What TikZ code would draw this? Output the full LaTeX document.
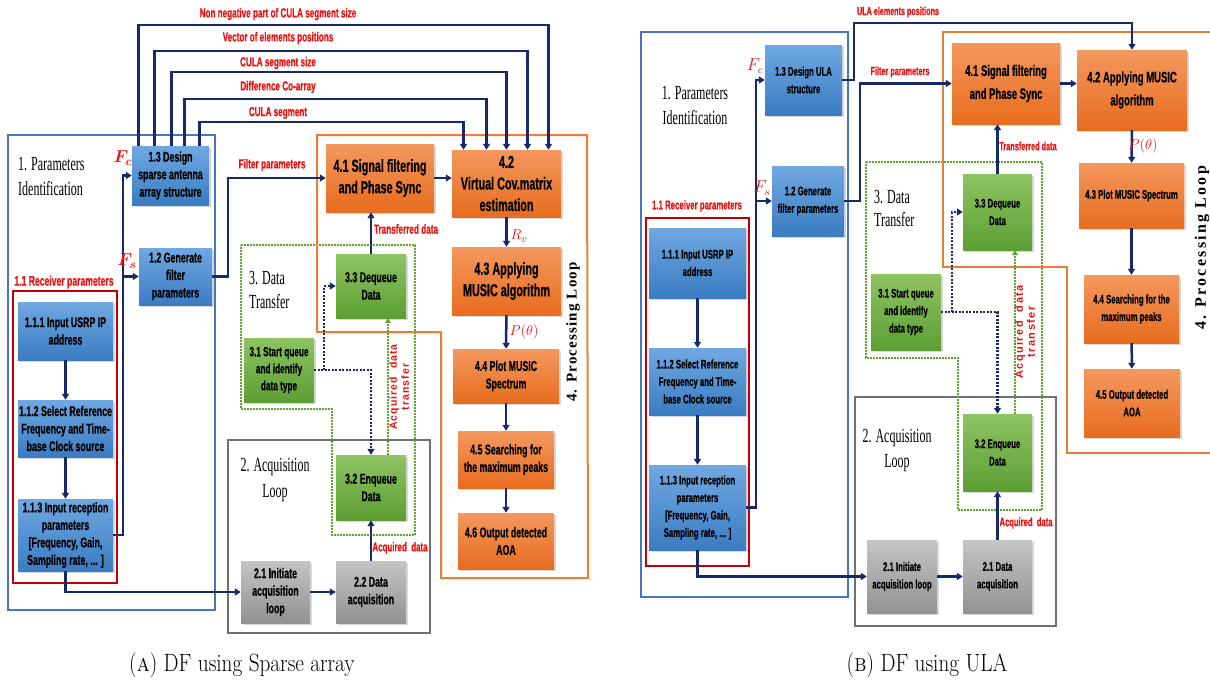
\documentclass[tikz,border=0pt]{standalone}
\usepackage{bm}
\usepackage{fontspec}
\newfontfamily\nfont[FakeStretch=0.62,FakeBold=0.6]{Liberation Sans}
\newfontfamily\wfont{Liberation Sans}
\newfontfamily\tfont[FakeStretch=0.6]{Liberation Serif}
\newfontfamily\loopfont{Liberation Serif}
\usetikzlibrary{arrows.meta,shadows}

\definecolor{navy}{RGB}{22,42,105}
\definecolor{labred}{RGB}{232,18,18}
\definecolor{bluT}{RGB}{112,168,225}
\definecolor{bluB}{RGB}{58,124,194}
\definecolor{orgT}{RGB}{244,152,94}
\definecolor{orgB}{RGB}{231,108,30}
\definecolor{grnT}{RGB}{142,196,98}
\definecolor{grnB}{RGB}{92,158,52}
\definecolor{gryT}{RGB}{196,196,196}
\definecolor{gryB}{RGB}{146,146,146}
\definecolor{frblue}{RGB}{72,116,196}
\definecolor{frred}{RGB}{192,0,0}
\definecolor{frgray}{RGB}{112,112,112}
\definecolor{frorange}{RGB}{237,125,49}
\definecolor{frgreen}{RGB}{96,164,46}

\tikzset{
  box/.style={rectangle, inner sep=1pt, align=center, text=black,
    drop shadow={shadow xshift=1.5pt, shadow yshift=-1.5pt, opacity=.3}},
  blu/.style={box, top color=bluT, bottom color=bluB},
  org/.style={box, top color=orgT, bottom color=orgB},
  grn/.style={box, top color=grnT, bottom color=grnB},
  gry/.style={box, top color=gryT, bottom color=gryB},
  fa/.style={font=\nfont\bfseries\fontsize{12.5}{17.5}\selectfont},
  fb/.style={font=\nfont\bfseries\fontsize{13.3}{17}\selectfont},
  fc/.style={font=\nfont\bfseries\fontsize{14.2}{17.5}\selectfont},
  fd/.style={font=\nfont\bfseries\fontsize{15.3}{23}\selectfont},
  fe/.style={font=\nfont\bfseries\fontsize{17.4}{21.5}\selectfont},
  flow/.style={draw=navy, line width=2.5pt, line join=miter,
    -{Triangle[length=6pt,width=7pt]}},
  dotflow/.style={flow, dash pattern=on 2pt off 1.5pt},
  grnflow/.style={draw=frgreen, line width=2.3pt, dash pattern=on 1.6pt off 1.4pt,
    -{Triangle[length=5pt,width=6pt]}},
  lbl/.style={text=labred, inner sep=0pt,
    font=\nfont\bfseries\fontsize{#1}{#1}\selectfont},
  mlbl/.style={text=labred, inner sep=0pt, font=\fontsize{#1}{#1}\selectfont},
  ttl/.style={inner sep=0pt, font=\tfont\fontsize{20}{25}\selectfont},
  frame/.style={line width=2pt, line join=miter},
  dotframe/.style={frame, draw=frgreen, line width=2.3pt, dash pattern=on 1.6pt off 1.4pt}
}

\begin{document}
\begin{tikzpicture}[x=1pt,y=-1pt]
\useasboundingbox (0,0) rectangle (1210,686);

% ---------------- (a) sparse array ----------------
\draw[frame, draw=frblue] (8,135) rectangle (215,610);
\draw[frame, draw=frred] (13,291) rectangle (117,583);
\draw[frame, draw=frgray] (228,440) rectangle (430,633);
\draw[dotframe] (241,245) -- (415,245) -- (415,535) -- (332,535) -- (332,409) -- (241,409) -- cycle;
\draw[frame, draw=frorange] (317,135) -- (587,135) -- (588,578) -- (441,578) -- (441,332) -- (317,332) -- cycle;

\node[ttl, anchor=west, align=left] (aPar) at (18,176) {1. Parameters\\Identification};
\node[ttl, anchor=west, align=left, font=\tfont\fontsize{20}{24}\selectfont] (aDat) at (249,290) {3. Data\\Transfer};
\node[ttl, align=center, font=\tfont\fontsize{20}{26}\selectfont] (aAcqL) at (275,480) {2. Acquisition\\Loop};
\node[rotate=90, font=\loopfont\bfseries\fontsize{15}{15}\selectfont\addfontfeatures{LetterSpace=8}] (aLoop) at (573,332) {4. Processing Loop};

\node[blu, fc, minimum width=77pt, minimum height=59pt] (aD) at (170.5,175.5) {1.3 Design\\sparse antenna\\array structure};
\node[blu, fc, minimum width=73pt, minimum height=57pt] (aG) at (175.5,276.5) {1.2 Generate\\filter\\parameters};
\node[blu, fc, minimum width=95pt, minimum height=58pt] (aA) at (65.5,331) {1.1.1 Input USRP IP\\address};
\node[blu, fc, minimum width=95pt, minimum height=57pt] (aB) at (65.5,428.5) {1.1.2 Select Reference\\Frequency and Time-\\base Clock source};
\node[blu, fc, minimum width=95pt, minimum height=72pt] (aC) at (65.5,535) {1.1.3 Input reception\\parameters\\{[}Frequency, Gain,\\Sampling rate, ... ]};
\node[gry, fc, minimum width=69pt, minimum height=62pt] (aI) at (275.5,592) {2.1 Initiate\\acquisition\\loop};
\node[gry, fc, minimum width=70pt, minimum height=62pt] (aQ) at (371,592) {2.2 Data\\acquisition};
\node[grn, fc, minimum width=70pt, minimum height=65pt] (aE) at (371,487.5) {3.2 Enqueue\\Data};
\node[grn, fb, minimum width=70pt, minimum height=64pt] (aT) at (279,370) {3.1 Start queue\\and identify\\data type};
\node[grn, fc, minimum width=70pt, minimum height=64pt] (aDq) at (371,286) {3.3 Dequeue\\Data};
\node[org, fe, minimum width=108pt, minimum height=68pt] (aS) at (380,178) {4.1 Signal filtering\\and Phase Sync};
\node[org, fe, minimum width=109pt, minimum height=67pt] (aV) at (506.5,183.5) {4.2\\Virtual Cov.matrix\\estimation};
\node[org, fe, minimum width=109pt, minimum height=68pt] (aM) at (506.5,281) {4.3 Applying\\MUSIC algorithm};
\node[org, fc, minimum width=106pt, minimum height=54pt] (aP) at (506,376) {4.4 Plot MUSIC\\Spectrum};
\node[org, fc, minimum width=96pt, minimum height=57pt] (aK) at (506,459.5) {4.5 Searching for\\the maximum peaks};
\node[org, fc, minimum width=96pt, minimum height=56pt] (aO) at (506,541) {4.6 Output detected\\AOA};

% array parameters over the top
\draw[flow] ([xshift=-32pt]aD.north) -- ++(0,-121) -| ([xshift=42pt]aV.north);
\draw[flow] ([xshift=-16pt]aD.north) -- ++(0,-95) -| ([xshift=21pt]aV.north);
\draw[flow] ([xshift=1pt]aD.north) -- ++(0,-74) -| (aV.north);
\draw[flow] ([xshift=14pt]aD.north) -- ++(0,-47) -| ([xshift=-20pt]aV.north);
\draw[flow] ([xshift=29pt]aD.north) -- ++(0,-24) -| ([xshift=-43pt]aV.north);
\node[lbl=13.1] (aL1) at (278,14) {Non negative part of CULA segment size};
\node[lbl=13.1] (aL2) at (278,38) {Vector of elements positions};
\node[lbl=13.1] (aL3) at (278,63) {CULA segment size};
\node[lbl=13.1] (aL4) at (278,87) {Difference Co-array};
\node[lbl=13.1] (aL5) at (278,113) {CULA segment};

\draw[flow] (aC.east) -- ++(10,0) |- (aD.west);
\draw[flow] ([xshift=10pt]aC.east) |- (aG.west);
\draw[flow] (aA) -- (aB);
\draw[flow] (aB) -- (aC);
\draw[flow] (aC.south) |- (aI.west);
\draw[flow] (aI) -- (aQ);
\draw[flow] (aQ) -- (aE);
\draw[flow] (aG.east) -- ++(16,0) |- (aS.west);
\draw[flow] (aS.east) -- (aS.east -| aV.west);
\draw[flow] (aDq.north) -- (aDq.north |- aS.south);
\draw[flow] (aV) -- (aM);
\draw[flow] (aM) -- (aP);
\draw[flow] (aP) -- (aK);
\draw[flow] (aK) -- (aO);
\draw[dotflow] (aT.east) -| (aE.north);
\draw[dotflow] ([xshift=10pt]aT.east) |- (aDq.west);
\draw[grnflow] ([xshift=17pt]aE.north) -- ([xshift=17pt]aDq.south);

\node[lbl=13.9] (aRcv) at (64,282) {1.1 Receiver parameters};
\node[lbl=13.3] (aFilt) at (272,165) {Filter parameters};
\node[lbl=13.2] (aTrans) at (406,229) {Transferred data};
\node[lbl=12.8] (aAcq) at (400,548) {Acquired\ \ data};
\node[rotate=90, text=labred, align=center, inner sep=0pt,
  font=\wfont\bfseries\fontsize{10.5}{12}\selectfont\addfontfeatures{LetterSpace=10}] (aAcqT) at (399,387) {Acquired\ \ data\\transfer};
\node[mlbl=17] (aFc) at (123,158) {$\bm{F_c}$};
\node[mlbl=17] (aFs) at (127,261) {$\bm{F_s}$};
\node[mlbl=15] (aRv) at (519,236) {$R_v$};
\node[mlbl=15] (aPt) at (524,332) {$P(\theta)$};

% ---------------- (b) ULA ----------------
\draw[frame, draw=frblue] (641,32) rectangle (848,597);
\draw[frame, draw=frred] (646,218) rectangle (749,566);
\draw[frame, draw=frgray] (855,397) rectangle (1056,626);
\draw[dotframe] (866,162) -- (1042,162) -- (1042,510) -- (958,510) -- (958,358) -- (866,358) -- cycle;
\draw[frame, draw=frorange] (1214,32) -- (943,32) -- (943,267) -- (1067,267) -- (1067,453) -- (1214,453);

\node[ttl, align=center] (bPar) at (695,105) {1. Parameters\\Identification};
\node[ttl, anchor=west, align=left, font=\tfont\fontsize{20}{23}\selectfont] (bDat) at (874,208) {3. Data\\Transfer};
\node[ttl, align=center, font=\tfont\fontsize{20}{25}\selectfont] (bAcqL) at (897,450) {2. Acquisition\\Loop};
\node[rotate=90, font=\loopfont\bfseries\fontsize{16}{16}\selectfont\addfontfeatures{LetterSpace=14}] (bLoop) at (1202,248) {4. Processing Loop};

\node[blu, fa, minimum width=77pt, minimum height=70pt] (bD) at (803.5,80) {1.3 Design ULA\\structure};
\node[blu, fa, minimum width=72pt, minimum height=70pt] (bG) at (808,201) {1.2 Generate\\filter parameters};
\node[blu, fa, minimum width=97pt, minimum height=70pt] (bA) at (697.5,263) {1.1.1 Input USRP IP\\address};
\node[blu, fa, minimum width=97pt, minimum height=67pt] (bB) at (697.5,381.5) {1.1.2 Select Reference\\Frequency and Time-\\base Clock source};
\node[blu, fa, minimum width=97pt, minimum height=85pt] (bC) at (697.5,507.5) {1.1.3 Input reception\\parameters\\{[}Frequency, Gain,\\Sampling rate, ... ]};
\node[gry, fa, minimum width=70pt, minimum height=73pt] (bI) at (902,576.5) {2.1 Initiate\\acquisition loop};
\node[gry, fa, minimum width=69pt, minimum height=73pt] (bQ) at (997.5,576.5) {2.1 Data\\acquisition};
\node[grn, fa, minimum width=69pt, minimum height=77pt] (bE) at (997.5,452.5) {3.2 Enqueue\\Data};
\node[grn, fa, minimum width=70pt, minimum height=76pt] (bT) at (906,312) {3.1 Start queue\\and identify\\data type};
\node[grn, fa, minimum width=69pt, minimum height=76pt] (bDq) at (997.5,212) {3.3 Dequeue\\Data};
\node[org, fd, minimum width=108pt, minimum height=81pt] (bS) at (1006,83.5) {4.1 Signal filtering\\and Phase Sync};
\node[org, fd, minimum width=110pt, minimum height=80pt] (bM) at (1132,90) {4.2 Applying MUSIC\\algorithm};
\node[org, fa, minimum width=105pt, minimum height=65pt] (bP) at (1131.5,195.5) {4.3 Plot MUSIC Spectrum};
\node[org, fa, minimum width=95pt, minimum height=68pt] (bK) at (1131.5,309) {4.4 Searching for the\\maximum peaks};
\node[org, fa, minimum width=96pt, minimum height=68pt] (bO) at (1132,403) {4.5 Output detected\\AOA};

\draw[flow] (bC.east) -- ++(10,0) |- (bD.west);
\draw[flow] ([xshift=10pt]bC.east) |- (bG.west);
\draw[flow] (bA) -- (bB);
\draw[flow] (bB) -- (bC);
\draw[flow] (bC.south) |- (bI.west);
\draw[flow] (bI) -- (bQ);
\draw[flow] (bQ) -- (bE);
\draw[flow] (bD.east) -- ++(12,0) -- ++(0,-57) -| (bM.north);
\draw[flow] (bG.east) -- ++(16,0) |- (bS.west);
\draw[flow] (bS.east) -- (bS.east -| bM.west);
\draw[flow] (bDq.north) -- (bDq.north |- bS.south);
\draw[flow] (bM) -- (bP);
\draw[flow] (bP) -- (bK);
\draw[flow] (bK) -- (bO);
\draw[dotflow] (bT.east) -| (bE.north);
\draw[dotflow] ([xshift=11pt]bT.east) |- (bDq.west);
\draw[grnflow] ([xshift=17.5pt]bE.north) -- ([xshift=17.5pt]bDq.south);

\node[lbl=12.6] (bRcv) at (697,206) {1.1 Receiver parameters};
\node[lbl=11.6] (bULA) at (898,12) {ULA elements positions};
\node[lbl=11.7] (bFilt) at (900,72) {Filter parameters};
\node[lbl=11.8] (bTrans) at (1028,146) {Transferred data};
\node[lbl=12.3] (bAcq) at (1026,523) {Acquired\ \ data};
\node[rotate=90, text=labred, align=center, inner sep=0pt,
  font=\wfont\bfseries\fontsize{11}{12}\selectfont\addfontfeatures{LetterSpace=13}] (bAcqT) at (1025,332) {Acquired\ \ data\\transfer};
\node[mlbl=16] (bFc) at (755,66) {$F_c$};
\node[mlbl=16] (bFs) at (762,188) {$F_s$};
\node[mlbl=15] (bPt) at (1143,146) {$P(\theta)$};

% sub-captions
\node[font=\fontsize{25}{25}\selectfont] (aCap) at (242,665) {\scalebox{0.85}[1]{(\textsc{a}) DF using Sparse array}};
\node[font=\fontsize{25}{25}\selectfont] (bCap) at (927,665) {\scalebox{0.85}[1]{(\textsc{b}) DF using ULA}};
\end{tikzpicture}
\end{document}
